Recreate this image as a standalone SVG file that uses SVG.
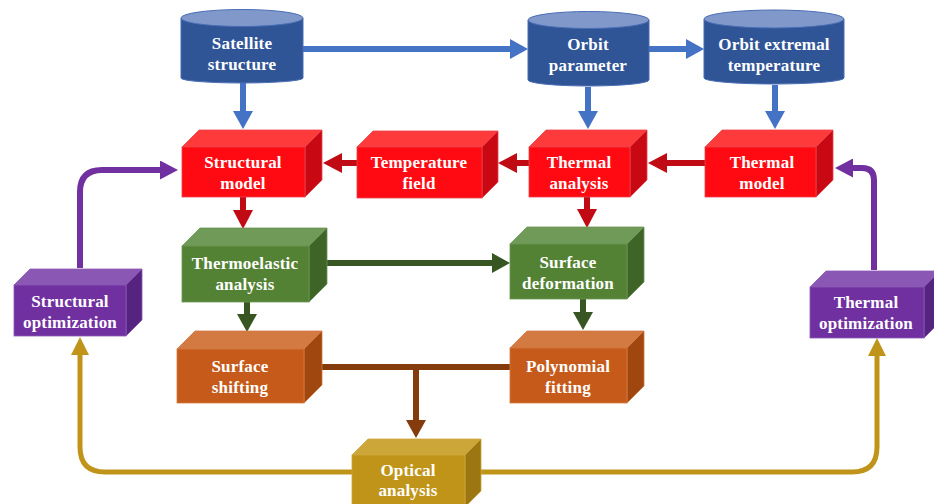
<svg xmlns="http://www.w3.org/2000/svg" width="934" height="504" viewBox="0 0 934 504">
  <style>
    .lbl { font-family: "Liberation Serif", "Times New Roman", serif; font-weight: bold; font-size: 17px; fill: #ffffff; text-anchor: middle; letter-spacing: 0.2px; }
    .cyl-body { fill: #2F5597; stroke: #4A6DB5; stroke-width: 1; }
    .cyl-top { fill: #8198CA; stroke: #4A6DB5; stroke-width: 1; }
    .red .front { fill: #FF0A12; } .red .top { fill: #FF3A3A; } .red .side { fill: #C80812; }
    .red polygon, .red rect { stroke: #E8434B; stroke-width: 0.8; }
    .green .front { fill: #548235; } .green .top { fill: #709A58; } .green .side { fill: #3E6428; }
    .green polygon, .green rect { stroke: #6C9654; stroke-width: 0.8; }
    .orange .front { fill: #C55A1A; } .orange .top { fill: #D27A42; } .orange .side { fill: #A0470F; }
    .orange polygon, .orange rect { stroke: #D27A42; stroke-width: 0.8; }
    .gold .front { fill: #BF9418; } .gold .top { fill: #CDA63A; } .gold .side { fill: #9C7610; }
    .gold polygon, .gold rect { stroke: #CDA63A; stroke-width: 0.8; }
    .purple .front { fill: #7030A0; } .purple .top { fill: #8A58B4; } .purple .side { fill: #552480; }
    .purple polygon, .purple rect { stroke: #8A58B4; stroke-width: 0.8; }
    .c { fill: none; stroke-linejoin: round; }
    .blue-c { stroke: #4472C4; stroke-width: 6; }
    .red-c { stroke: #C00A14; stroke-width: 6; }
    .green-c { stroke: #375623; stroke-width: 6; }
    .brown-c { stroke: #843C0C; stroke-width: 6; }
    .gold-c { stroke: #BF9418; stroke-width: 5; }
    .purple-c { stroke: #7030A0; stroke-width: 6; }
  </style>
  <defs>
    <marker id="hBlue" markerUnits="userSpaceOnUse" markerWidth="18" markerHeight="20" refX="0" refY="10" orient="auto"><path d="M0,0 L18,10 L0,20 z" fill="#4472C4"/></marker>
    <marker id="hRed" markerUnits="userSpaceOnUse" markerWidth="19" markerHeight="20" refX="0" refY="10" orient="auto"><path d="M0,0 L19,10 L0,20 z" fill="#C00A14"/></marker>
    <marker id="hGreen" markerUnits="userSpaceOnUse" markerWidth="18" markerHeight="20" refX="0" refY="10" orient="auto"><path d="M0,0 L18,10 L0,20 z" fill="#375623"/></marker>
    <marker id="hBrown" markerUnits="userSpaceOnUse" markerWidth="18" markerHeight="20" refX="0" refY="10" orient="auto"><path d="M0,0 L18,10 L0,20 z" fill="#843C0C"/></marker>
    <marker id="hGold" markerUnits="userSpaceOnUse" markerWidth="18" markerHeight="18" refX="0" refY="9" orient="auto"><path d="M0,0 L18,9 L0,18 z" fill="#BF9418"/></marker>
    <marker id="hPurple" markerUnits="userSpaceOnUse" markerWidth="18" markerHeight="19" refX="0" refY="9.5" orient="auto"><path d="M0,0 L18,9.5 L0,19 z" fill="#7030A0"/></marker>
  </defs>

  <!-- connectors -->
  <g id="connectors">
    <path class="c blue-c" d="M303,49 H510" marker-end="url(#hBlue)"/>
    <path class="c blue-c" d="M649,49 H686" marker-end="url(#hBlue)"/>
    <path class="c blue-c" d="M243,83 V111" marker-end="url(#hBlue)"/>
    <path class="c blue-c" d="M588,87 V111" marker-end="url(#hBlue)"/>
    <path class="c blue-c" d="M775,85 V111" marker-end="url(#hBlue)"/>

    <path class="c red-c" d="M357,163 H342" marker-end="url(#hRed)"/>
    <path class="c red-c" d="M529,163 H517" marker-end="url(#hRed)"/>
    <path class="c red-c" d="M705,163 H667" marker-end="url(#hRed)"/>
    <path class="c red-c" d="M243,197 V210" marker-end="url(#hRed)"/>
    <path class="c red-c" d="M587,197 V209" marker-end="url(#hRed)"/>

    <path class="c green-c" d="M327,263 H492" marker-end="url(#hGreen)"/>
    <path class="c green-c" d="M247,302 V314" marker-end="url(#hGreen)"/>
    <path class="c green-c" d="M583,299 V312" marker-end="url(#hGreen)"/>

    <path class="c brown-c" d="M304,367 H510"/>
    <path class="c brown-c" d="M416,367 V420" marker-end="url(#hBrown)"/>

    <path class="c gold-c" d="M352,472 H105 Q80,472 80,447 V355" marker-end="url(#hGold)"/>
    <path class="c gold-c" d="M480,472 H852 Q877,472 877,447 V356" marker-end="url(#hGold)"/>

    <path class="c purple-c" d="M80,268 V192 Q80,170 102,170 H160" marker-end="url(#hPurple)"/>
    <path class="c purple-c" d="M874,270 V180 Q874,168 862,168 H853" marker-end="url(#hPurple)"/>
  </g>

  <!-- data sources (cylinders) -->
  <g id="satellite-structure">
    <path class="cyl-body" d="M181,18 V78 A61,5 0 0 0 303,78 V18 z"/>
    <ellipse class="cyl-top" cx="242" cy="18" rx="61" ry="8.5"/>
    <text class="lbl" x="242" y="49">Satellite</text>
    <text class="lbl" x="242" y="70">structure</text>
  </g>
  <g id="orbit-parameter">
    <path class="cyl-body" d="M528,20 V80 A60.5,6 0 0 0 649,80 V20 z"/>
    <ellipse class="cyl-top" cx="588.5" cy="20" rx="60.5" ry="8.5"/>
    <text class="lbl" x="588" y="50">Orbit</text>
    <text class="lbl" x="588" y="71">parameter</text>
  </g>
  <g id="orbit-extremal-temperature">
    <path class="cyl-body" d="M704,19 V78 A70,6 0 0 0 844,78 V19 z"/>
    <ellipse class="cyl-top" cx="774" cy="19" rx="70" ry="9"/>
    <text class="lbl" x="774" y="50">Orbit extremal</text>
    <text class="lbl" x="774" y="71">temperature</text>
  </g>

  <!-- thermal / structural models -->
  <g id="structural-model" class="red">
    <polygon class="top" points="182,147 199,130 322,130 305,147"/>
    <polygon class="side" points="305,147 322,130 322,180 305,197"/>
    <rect class="front" x="182" y="147" width="123" height="50"/>
    <text class="lbl" x="243" y="168">Structural</text>
    <text class="lbl" x="243" y="189">model</text>
  </g>
  <g id="temperature-field" class="red">
    <polygon class="top" points="357,147 373,131 498,131 482,147"/>
    <polygon class="side" points="482,147 498,131 498,182 482,198"/>
    <rect class="front" x="357" y="147" width="125" height="51"/>
    <text class="lbl" x="419" y="168">Temperature</text>
    <text class="lbl" x="419" y="189">field</text>
  </g>
  <g id="thermal-analysis" class="red">
    <polygon class="top" points="529,147 546,130 647,130 630,147"/>
    <polygon class="side" points="630,147 647,130 647,180 630,197"/>
    <rect class="front" x="529" y="147" width="101" height="50"/>
    <text class="lbl" x="579" y="168">Thermal</text>
    <text class="lbl" x="579" y="189">analysis</text>
  </g>
  <g id="thermal-model" class="red">
    <polygon class="top" points="705,147 722,130 833,130 816,147"/>
    <polygon class="side" points="816,147 833,130 833,180 816,197"/>
    <rect class="front" x="705" y="147" width="111" height="50"/>
    <text class="lbl" x="762" y="168">Thermal</text>
    <text class="lbl" x="762" y="189">model</text>
  </g>

  <!-- analysis stages -->
  <g id="thermoelastic-analysis" class="green">
    <polygon class="top" points="182,246 200,228 327,228 309,246"/>
    <polygon class="side" points="309,246 327,228 327,284 309,302"/>
    <rect class="front" x="182" y="246" width="127" height="56"/>
    <text class="lbl" x="245" y="269">Thermoelastic</text>
    <text class="lbl" x="245" y="290">analysis</text>
  </g>
  <g id="surface-deformation" class="green">
    <polygon class="top" points="510,244 527,227 644,227 627,244"/>
    <polygon class="side" points="627,244 644,227 644,282 627,299"/>
    <rect class="front" x="510" y="244" width="117" height="55"/>
    <text class="lbl" x="568" y="268">Surface</text>
    <text class="lbl" x="568" y="289">deformation</text>
  </g>
  <g id="surface-shifting" class="orange">
    <polygon class="top" points="177,349 195,331 322,331 304,349"/>
    <polygon class="side" points="304,349 322,331 322,385 304,403"/>
    <rect class="front" x="177" y="349" width="127" height="54"/>
    <text class="lbl" x="240" y="372">Surface</text>
    <text class="lbl" x="240" y="393">shifting</text>
  </g>
  <g id="polynomial-fitting" class="orange">
    <polygon class="top" points="510,348 527,331 644,331 627,348"/>
    <polygon class="side" points="627,348 644,331 644,386 627,403"/>
    <rect class="front" x="510" y="348" width="117" height="55"/>
    <text class="lbl" x="568" y="372">Polynomial</text>
    <text class="lbl" x="568" y="393">fitting</text>
  </g>
  <g id="optical-analysis" class="gold">
    <polygon class="top" points="352,455 368,439 481,439 465,455"/>
    <polygon class="side" points="465,455 481,439 481,491 465,507"/>
    <rect class="front" x="352" y="455" width="113" height="52"/>
    <text class="lbl" x="408" y="476">Optical</text>
    <text class="lbl" x="408" y="496">analysis</text>
  </g>

  <!-- optimization loops -->
  <g id="structural-optimization" class="purple">
    <polygon class="top" points="14,285 30,269 142,269 126,285"/>
    <polygon class="side" points="126,285 142,269 142,320 126,336"/>
    <rect class="front" x="14" y="285" width="112" height="51"/>
    <text class="lbl" x="70" y="307">Structural</text>
    <text class="lbl" x="70" y="328">optimization</text>
  </g>
  <g id="thermal-optimization" class="purple">
    <polygon class="top" points="810,287 826,271 940,271 924,287"/>
    <polygon class="side" points="924,287 940,271 940,322 924,338"/>
    <rect class="front" x="810" y="287" width="114" height="51"/>
    <text class="lbl" x="866" y="308">Thermal</text>
    <text class="lbl" x="866" y="329">optimization</text>
  </g>
</svg>
